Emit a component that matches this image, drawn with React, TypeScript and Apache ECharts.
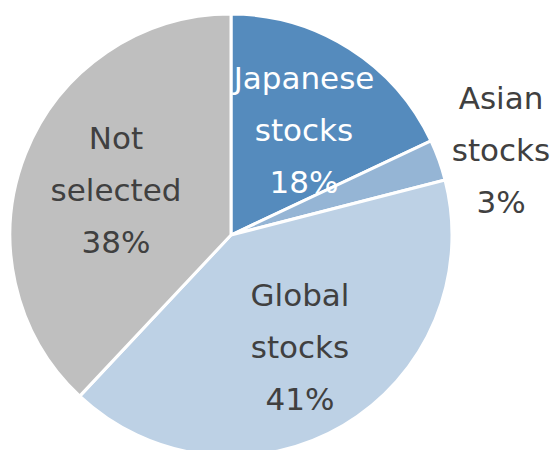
import React, { useEffect, useRef } from "react";
import * as echarts from "echarts";

const categories = ["Japanese\nstocks", "Asian\nstocks", "Global\nstocks", "Not\nselected"];
const values = [18, 3, 41, 38];
const colors = ["#558BBD", "#95B5D5", "#BDD1E5", "#BFBFBF"];
const labelColors = ["#FFFFFF", "#404040", "#404040", "#404040"];
const labelPos: [number, number][] = [
  [304, 130],
  [501, 150],
  [300, 347],
  [116, 190],
];

export default function App() {
  const ref = useRef<HTMLDivElement>(null);
  useEffect(() => {
    if (!ref.current) return;
    const chart = echarts.init(ref.current, null, { renderer: "svg" });
    chart.setOption({
      animation: false,
      series: [
        {
          type: "pie",
          center: [231, 235],
          radius: 221,
          startAngle: 90,
          clockwise: true,
          avoidLabelOverlap: false,
          itemStyle: { borderColor: "#FFFFFF", borderWidth: 3 },
          emphasis: { disabled: true },
          label: {
            show: true,
            position: "inside",
            formatter: (p: any) => `${p.name}\n${p.value}%`,
            fontFamily: "DejaVu Sans",
            fontSize: 31,
            lineHeight: 52,
            align: "center",
            verticalAlign: "middle",
          },
          labelLine: { show: false },
          labelLayout: (params: any) => {
            const [x, y] = labelPos[params.dataIndex];
            return { x, y };
          },
          data: categories.map((name, i) => ({
            name,
            value: values[i],
            itemStyle: { color: colors[i] },
            label: { color: labelColors[i] },
          })),
        },
      ],
    });
    return () => chart.dispose();
  }, []);
  return (
    <div
      ref={ref}
      style={{ position: "fixed", left: 0, top: 0, width: 551, height: 450, background: "#FFFFFF" }}
    />
  );
}
